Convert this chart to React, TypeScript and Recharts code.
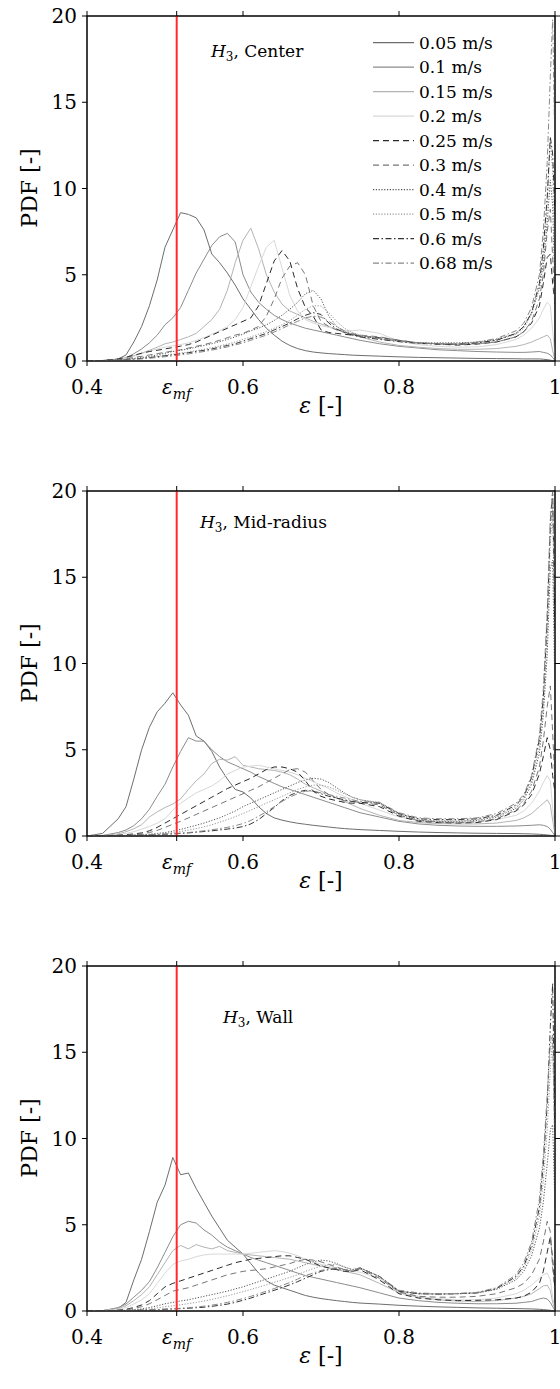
import React from 'react';
import { LineChart, Line, XAxis, YAxis, ReferenceLine } from 'recharts';

// voidage grid (shared by every curve)
const eps = [0.40, 0.42, 0.44, 0.45, 0.46, 0.47, 0.48, 0.49, 0.50, 0.51,
  0.52, 0.53, 0.54, 0.55, 0.56, 0.57, 0.58, 0.59, 0.60, 0.61,
  0.62, 0.63, 0.64, 0.65, 0.66, 0.67, 0.68, 0.69, 0.70, 0.71,
  0.72, 0.73, 0.74, 0.75, 0.775, 0.80, 0.825, 0.85, 0.875, 0.90,
  0.925, 0.95, 0.96, 0.97, 0.98, 0.985, 0.99, 0.994, 0.997, 1.0];

const EPS_MF = 0.515;
const xTicks = [0.4, EPS_MF, 0.6, 0.8, 1];
const yTicks = [0, 5, 10, 15, 20];
const speeds = ['0.05 m/s', '0.1 m/s', '0.15 m/s', '0.2 m/s', '0.25 m/s', '0.3 m/s', '0.4 m/s', '0.5 m/s', '0.6 m/s', '0.68 m/s'];

// Center
const cA = [0, 0.02, 0.12, 0.35, 1.1, 2.0, 3.2, 4.7, 6.6, 7.6, 8.6, 8.5, 8.3, 7.6, 6.2, 5.7, 5.1, 4.4, 3.6, 3.0, 2.4, 1.9, 1.5, 1.15, 0.9, 0.72, 0.6, 0.52, 0.47, 0.43, 0.4, 0.37, 0.34, 0.32, 0.28, 0.24, 0.21, 0.19, 0.17, 0.15, 0.14, 0.13, 0.12, 0.12, 0.12, 0.1, 0.08, 0.05, 0.02, 0];
const cB = [0, 0.03, 0.1, 0.18, 0.42, 0.7, 1.05, 1.5, 2.1, 2.5, 3.1, 4.1, 5.1, 5.9, 6.7, 7.2, 7.4, 6.9, 5.0, 4.0, 3.4, 3.0, 2.65, 2.4, 2.2, 2.05, 1.9, 1.8, 1.7, 1.6, 1.5, 1.4, 1.3, 1.2, 1.0, 0.85, 0.75, 0.65, 0.6, 0.55, 0.52, 0.5, 0.5, 0.52, 0.55, 0.5, 0.45, 0.35, 0.2, 0.03];
const cC = [0, 0.03, 0.1, 0.18, 0.3, 0.45, 0.62, 0.8, 1.0, 1.1, 1.25, 1.4, 1.6, 2.0, 2.4, 3.0, 4.1, 5.7, 7.0, 7.7, 6.5, 5.0, 4.0, 3.3, 2.9, 2.7, 2.5, 2.3, 2.15, 2.0, 1.85, 1.7, 1.55, 1.4, 1.1, 0.9, 0.8, 0.72, 0.68, 0.68, 0.72, 0.85, 0.95, 1.1, 1.3, 1.4, 1.5, 1.3, 0.6, 0.05];
const cD = [0, 0.02, 0.08, 0.15, 0.28, 0.42, 0.56, 0.7, 0.8, 0.88, 0.95, 1.05, 1.2, 1.35, 1.55, 1.75, 2.0, 2.4, 3.1, 4.3, 5.5, 6.6, 7.0, 5.4, 3.8, 2.9, 2.4, 2.2, 2.05, 1.95, 1.85, 1.75, 1.75, 1.8, 1.6, 1.15, 0.95, 0.85, 0.8, 0.82, 0.95, 1.25, 1.5, 1.9, 2.5, 3.0, 3.4, 3.2, 1.8, 0.15];
const cE = [0, 0.03, 0.12, 0.22, 0.33, 0.45, 0.55, 0.62, 0.7, 0.78, 0.86, 0.95, 1.1, 1.3, 1.5, 1.7, 1.9, 2.1, 2.3, 2.5, 3.2, 4.5, 5.8, 6.4, 5.8, 4.2, 3.1, 2.6, 1.8, 1.65, 1.6, 1.55, 1.5, 1.45, 1.35, 1.2, 1.05, 0.98, 0.92, 0.98, 1.1, 1.4, 1.7, 2.2, 3.2, 4.5, 6.0, 6.2, 4.5, 3.3];
const cF = [0, 0.02, 0.08, 0.14, 0.2, 0.27, 0.35, 0.43, 0.5, 0.58, 0.65, 0.75, 0.85, 0.95, 1.07, 1.2, 1.35, 1.5, 1.6, 1.8, 2.0, 2.6, 3.6, 4.8, 5.5, 5.7, 5.0, 3.2, 2.3, 2.0, 1.8, 1.65, 1.55, 1.5, 1.4, 1.2, 1.05, 1.0, 0.95, 1.0, 1.1, 1.4, 1.7, 2.3, 3.6, 5.0, 7.5, 8.8, 6.0, 3.0];
const cG = [0, 0.02, 0.06, 0.1, 0.15, 0.2, 0.27, 0.35, 0.45, 0.55, 0.62, 0.7, 0.8, 0.9, 1.0, 1.12, 1.25, 1.4, 1.55, 1.75, 1.9, 2.1, 2.35, 2.65, 3.0, 3.4, 3.9, 4.1, 3.6, 2.6, 2.0, 1.7, 1.55, 1.45, 1.3, 1.15, 1.05, 1.05, 1.05, 1.1, 1.25, 1.6, 2.0, 2.8, 4.2, 5.6, 8.0, 10.5, 9.0, 4.0];
const cH = [0, 0.02, 0.05, 0.08, 0.12, 0.16, 0.21, 0.27, 0.34, 0.4, 0.46, 0.52, 0.6, 0.68, 0.77, 0.87, 0.98, 1.1, 1.25, 1.4, 1.55, 1.72, 1.9, 2.1, 2.35, 2.65, 3.0, 3.2, 3.2, 2.8, 2.3, 1.9, 1.65, 1.5, 1.3, 1.15, 1.05, 1.0, 1.0, 1.05, 1.2, 1.55, 1.9, 2.7, 4.3, 6.0, 9.0, 12.8, 11.0, 5.0];
const cI = [0, 0.02, 0.05, 0.08, 0.11, 0.15, 0.2, 0.25, 0.3, 0.36, 0.42, 0.48, 0.55, 0.62, 0.7, 0.8, 0.9, 1.0, 1.15, 1.3, 1.45, 1.6, 1.8, 2.0, 2.2, 2.45, 2.65, 2.8, 2.7, 2.2, 1.85, 1.65, 1.5, 1.4, 1.25, 1.12, 1.02, 0.98, 0.98, 1.05, 1.2, 1.6, 2.0, 2.8, 4.5, 6.5, 9.5, 13.0, 12.0, 8.5];
const cJ = [0, 0.02, 0.04, 0.06, 0.09, 0.12, 0.16, 0.2, 0.25, 0.3, 0.35, 0.41, 0.48, 0.55, 0.63, 0.72, 0.82, 0.93, 1.05, 1.2, 1.35, 1.5, 1.68, 1.88, 2.1, 2.3, 2.5, 2.6, 2.55, 2.3, 2.0, 1.75, 1.6, 1.5, 1.3, 1.15, 1.05, 1.0, 1.0, 1.1, 1.3, 1.75, 2.2, 3.1, 5.0, 7.5, 11.5, 16.5, 19.8, 12];

// Mid-radius
const mA = [0, 0.15, 1.0, 1.7, 3.3, 5.0, 6.3, 7.2, 7.7, 8.3, 7.6, 7.0, 5.8, 5.5, 4.9, 4.0, 3.3, 2.7, 2.55, 2.2, 1.7, 1.3, 1.05, 0.92, 0.82, 0.74, 0.68, 0.62, 0.57, 0.52, 0.47, 0.43, 0.4, 0.37, 0.32, 0.27, 0.23, 0.2, 0.18, 0.16, 0.15, 0.14, 0.13, 0.12, 0.1, 0.08, 0.06, 0.04, 0.02, 0];
const mB = [0, 0.03, 0.2, 0.35, 0.6, 1.0, 1.55, 2.3, 3.0, 4.0, 4.9, 5.7, 5.5, 5.5, 5.0, 4.6, 4.3, 4.1, 3.9, 3.7, 3.45, 3.25, 3.05, 2.85, 2.7, 2.55, 2.4, 2.25, 2.1, 1.95, 1.8, 1.65, 1.5, 1.35, 1.1, 0.85, 0.7, 0.62, 0.58, 0.56, 0.56, 0.58, 0.6, 0.62, 0.65, 0.62, 0.55, 0.4, 0.2, 0.02];
const mC = [0, 0.02, 0.12, 0.25, 0.42, 0.65, 1.1, 1.4, 1.65, 1.85, 2.15, 2.7, 3.2, 3.6, 4.2, 4.45, 4.4, 4.6, 4.1, 4.0, 3.9, 3.85, 3.8, 3.7, 3.55, 3.3, 3.0, 2.8, 2.6, 2.4, 2.2, 2.0, 1.8, 1.6, 1.2, 0.9, 0.78, 0.72, 0.7, 0.7, 0.75, 0.9, 1.05, 1.3, 1.7, 1.9, 2.1, 1.8, 0.9, 0.1];
const mD = [0, 0.01, 0.08, 0.15, 0.25, 0.4, 0.55, 0.75, 1.0, 1.5, 1.9, 2.2, 2.5, 2.7, 2.9, 3.2, 3.6, 3.8, 4.0, 4.05, 4.1, 4.0, 3.9, 3.8, 3.7, 3.55, 3.35, 3.15, 2.95, 2.75, 2.5, 2.3, 2.1, 1.9, 1.5, 1.1, 0.9, 0.82, 0.8, 0.82, 0.95, 1.2, 1.45, 1.9, 2.6, 3.1, 3.5, 3.2, 1.6, 0.1];
const mE = [0, 0.02, 0.05, 0.08, 0.12, 0.18, 0.3, 0.5, 0.75, 1.0, 1.25, 1.5, 1.75, 2.0, 2.25, 2.5, 2.75, 2.95, 3.15, 3.35, 3.6, 3.85, 4.0, 4.0, 3.9, 3.7, 3.2, 2.6, 2.3, 2.15, 2.05, 1.95, 1.9, 1.9, 1.7, 1.15, 0.85, 0.78, 0.75, 0.78, 0.95, 1.45, 1.8, 2.4, 3.6, 4.6, 5.7, 5.0, 3.5, 2.5];
const mF = [0, 0.01, 0.03, 0.05, 0.08, 0.12, 0.2, 0.32, 0.5, 0.68, 0.85, 1.05, 1.25, 1.45, 1.65, 1.85, 2.05, 2.25, 2.45, 2.65, 2.85, 3.1, 3.35, 3.6, 3.85, 3.9, 3.7, 3.2, 2.7, 2.4, 2.2, 2.05, 2.0, 1.95, 1.8, 1.2, 0.9, 0.8, 0.78, 0.82, 1.0, 1.5, 1.9, 2.6, 4.0, 5.5, 7.5, 8.7, 6.0, 3.0];
const mG = [0, 0.01, 0.02, 0.03, 0.05, 0.07, 0.1, 0.15, 0.2, 0.28, 0.38, 0.5, 0.62, 0.75, 0.9, 1.05, 1.25, 1.45, 1.7, 1.9, 2.1, 2.3, 2.5, 2.7, 2.9, 3.1, 3.25, 3.35, 3.3, 3.1, 2.8, 2.5, 2.25, 2.1, 1.9, 1.25, 0.9, 0.85, 0.85, 0.9, 1.1, 1.6, 2.1, 3.0, 4.8, 7.0, 10.5, 15.5, 16.0, 8.0];
const mH = [0, 0.01, 0.02, 0.03, 0.04, 0.06, 0.08, 0.11, 0.15, 0.2, 0.26, 0.34, 0.43, 0.53, 0.65, 0.8, 0.95, 1.12, 1.3, 1.5, 1.7, 1.9, 2.1, 2.3, 2.5, 2.7, 2.85, 2.95, 2.95, 2.85, 2.65, 2.45, 2.25, 2.1, 1.95, 1.3, 0.95, 0.88, 0.88, 0.95, 1.15, 1.7, 2.2, 3.2, 5.2, 7.5, 11.5, 17.0, 19.0, 10.0];
const mI = [0, 0.01, 0.02, 0.03, 0.04, 0.05, 0.06, 0.08, 0.1, 0.12, 0.15, 0.18, 0.22, 0.26, 0.3, 0.35, 0.4, 0.46, 0.55, 0.7, 0.95, 1.3, 1.65, 2.05, 2.35, 2.55, 2.65, 2.6, 2.45, 2.3, 2.2, 2.1, 2.0, 1.95, 1.9, 1.3, 1.0, 0.95, 0.95, 1.0, 1.2, 1.8, 2.3, 3.4, 5.6, 8.0, 12.5, 18.0, 20.0, 12.0];
const mJ = [0, 0.01, 0.02, 0.03, 0.04, 0.05, 0.07, 0.09, 0.11, 0.14, 0.17, 0.2, 0.25, 0.3, 0.36, 0.43, 0.5, 0.6, 0.72, 0.9, 1.15, 1.4, 1.7, 2.0, 2.25, 2.45, 2.6, 2.6, 2.5, 2.4, 2.3, 2.2, 2.1, 2.0, 1.95, 1.35, 1.05, 1.0, 1.0, 1.05, 1.3, 1.9, 2.4, 3.5, 5.8, 8.5, 13.0, 18.5, 20.0, 14.0];

// Wall
const wA = [0, 0.02, 0.15, 0.5, 1.8, 3.0, 4.6, 6.3, 7.3, 8.9, 7.9, 8.0, 7.1, 6.3, 5.5, 4.8, 4.1, 3.7, 3.3, 2.75, 2.2, 1.75, 1.5, 1.35, 1.2, 1.05, 0.9, 0.8, 0.72, 0.66, 0.6, 0.55, 0.5, 0.46, 0.4, 0.33, 0.28, 0.24, 0.21, 0.18, 0.16, 0.14, 0.13, 0.12, 0.1, 0.08, 0.06, 0.04, 0.02, 0];
const wB = [0, 0.02, 0.2, 0.4, 0.8, 1.2, 1.7, 2.5, 3.4, 4.3, 5.0, 5.2, 5.1, 4.7, 4.4, 4.0, 3.7, 3.5, 3.3, 3.1, 2.95, 2.8, 2.65, 2.5, 2.35, 2.2, 2.05, 1.95, 1.85, 1.75, 1.65, 1.55, 1.45, 1.35, 1.05, 0.75, 0.6, 0.5, 0.45, 0.42, 0.42, 0.45, 0.5, 0.55, 0.7, 0.75, 0.7, 0.5, 0.25, 0.02];
const wC = [0, 0.02, 0.15, 0.3, 0.6, 0.95, 1.4, 2.1, 2.8, 3.5, 3.8, 3.6, 3.85, 3.7, 3.6, 3.75, 3.5, 3.4, 3.3, 3.25, 3.2, 3.15, 3.1, 3.05, 3.0, 2.9, 2.8, 2.7, 2.6, 2.5, 2.4, 2.3, 2.2, 2.1, 1.6, 1.05, 0.8, 0.65, 0.58, 0.55, 0.6, 0.75, 0.85, 1.0, 1.3, 1.45, 1.5, 1.2, 0.5, 0.05];
const wD = [0, 0.01, 0.1, 0.2, 0.4, 0.65, 1.0, 1.6, 2.2, 2.7, 2.9, 3.0, 3.15, 3.25, 3.3, 3.3, 3.3, 3.3, 3.3, 3.35, 3.4, 3.45, 3.5, 3.45, 3.35, 3.2, 3.0, 2.85, 2.7, 2.6, 2.5, 2.4, 2.3, 2.25, 1.9, 1.1, 0.85, 0.72, 0.65, 0.65, 0.75, 1.0, 1.2, 1.5, 1.9, 2.1, 2.2, 1.8, 0.8, 0.1];
const wE = [0, 0.01, 0.05, 0.1, 0.2, 0.35, 0.6, 1.0, 1.4, 1.6, 1.75, 1.9, 2.05, 2.2, 2.35, 2.5, 2.65, 2.8, 2.9, 3.0, 3.05, 3.1, 3.15, 3.2, 3.2, 3.1, 3.0, 2.8, 2.6, 2.5, 2.4, 2.3, 2.3, 2.4, 1.8, 1.0, 0.75, 0.65, 0.6, 0.62, 0.65, 0.75, 0.85, 1.1, 1.6, 2.3, 3.4, 4.3, 3.0, 1.3];
const wF = [0, 0.01, 0.04, 0.08, 0.15, 0.25, 0.42, 0.65, 0.9, 1.15, 1.25, 1.35, 1.5, 1.65, 1.8, 1.95, 2.1, 2.2, 2.3, 2.35, 2.4, 2.45, 2.55, 2.65, 2.75, 2.9, 3.0, 2.95, 2.85, 2.7, 2.55, 2.4, 2.3, 2.45, 1.9, 1.1, 0.85, 0.8, 0.8, 0.85, 1.0, 1.35, 1.6, 2.1, 3.0, 4.0, 5.2, 4.6, 2.5, 1.0];
const wG = [0, 0.01, 0.03, 0.05, 0.08, 0.12, 0.2, 0.3, 0.42, 0.5, 0.58, 0.65, 0.75, 0.85, 0.95, 1.05, 1.15, 1.28, 1.4, 1.55, 1.7, 1.85, 2.0, 2.15, 2.3, 2.5, 2.7, 2.85, 2.95, 2.9, 2.75, 2.55, 2.4, 2.5, 2.0, 1.15, 1.0, 0.98, 1.0, 1.05, 1.25, 1.8, 2.3, 3.2, 4.8, 6.3, 8.5, 10.5, 10.8, 6.0];
const wH = [0, 0.01, 0.02, 0.03, 0.05, 0.08, 0.12, 0.18, 0.25, 0.3, 0.36, 0.43, 0.5, 0.58, 0.67, 0.77, 0.88, 1.0, 1.12, 1.25, 1.38, 1.52, 1.66, 1.8, 1.95, 2.1, 2.3, 2.45, 2.6, 2.7, 2.7, 2.55, 2.4, 2.5, 2.0, 1.15, 1.0, 1.0, 1.0, 1.05, 1.3, 1.9, 2.5, 3.5, 5.5, 7.5, 10.5, 14.0, 16.0, 9.0];
const wI = [0, 0.01, 0.02, 0.03, 0.04, 0.05, 0.06, 0.08, 0.1, 0.12, 0.14, 0.16, 0.19, 0.22, 0.27, 0.33, 0.4, 0.5, 0.62, 0.75, 0.9, 1.05, 1.2, 1.35, 1.52, 1.7, 1.9, 2.1, 2.3, 2.4, 2.45, 2.4, 2.3, 2.5, 2.0, 1.15, 1.0, 0.98, 1.0, 1.05, 1.3, 2.0, 2.6, 3.8, 6.0, 8.5, 12.0, 16.5, 19.0, 10.0];
const wJ = [0, 0.01, 0.02, 0.03, 0.04, 0.05, 0.07, 0.09, 0.11, 0.13, 0.16, 0.19, 0.23, 0.28, 0.34, 0.41, 0.5, 0.6, 0.72, 0.85, 1.0, 1.15, 1.3, 1.48, 1.65, 1.85, 2.05, 2.2, 2.35, 2.45, 2.5, 2.4, 2.3, 2.5, 2.0, 1.2, 1.05, 1.0, 1.02, 1.08, 1.35, 2.1, 2.8, 4.0, 6.5, 9.0, 12.5, 15.5, 16.0, 9.0];

const centerSeries = [cA, cB, cC, cD, cE, cF, cG, cH, cI, cJ];
const midSeries = [mA, mB, mC, mD, mE, mF, mG, mH, mI, mJ];
const wallSeries = [wA, wB, wC, wD, wE, wF, wG, wH, wI, wJ];

const lineStyles = [
  { stroke: '#6e6e6e', dash: undefined },
  { stroke: '#8c8c8c', dash: undefined },
  { stroke: '#b4b4b4', dash: undefined },
  { stroke: '#d8d8d8', dash: undefined },
  { stroke: '#2a2a2a', dash: '6 4' },
  { stroke: '#777777', dash: '6 4' },
  { stroke: '#555555', dash: '1.2 1.6' },
  { stroke: '#999999', dash: '1.2 1.6' },
  { stroke: '#333333', dash: '6 2.5 1.5 2.5' },
  { stroke: '#888888', dash: '6 2.5 1.5 2.5' },
];

const FONT = 'DejaVu Serif';

const XTick = (props: any) => {
  const { x, y, payload } = props;
  if (Math.abs(payload.value - EPS_MF) < 1e-6) {
    return (
      <text x={x} y={y + 26} textAnchor="middle" fontFamily={FONT} fontSize={20} fill="#000">
        <tspan fontStyle="italic">ε</tspan>
        <tspan fontStyle="italic" fontSize={14} dy={5}>mf</tspan>
      </text>
    );
  }
  return (
    <text x={x} y={y + 26} textAnchor="middle" fontFamily={FONT} fontSize={20} fill="#000">
      {String(payload.value)}
    </text>
  );
};

const Panel = ({ series, title, titleX, titleY, height, bottom, legend }: any) => {
  const rows = eps.map((e, i) => {
    const r: any = { eps: e };
    series.forEach((s: number[], k: number) => { r['s' + k] = s[i]; });
    return r;
  });
  const plotBottom = height - bottom - 30;
  const last = series.length - 1;
  return (
    <LineChart width={560} height={height} data={rows} margin={{ top: 15, right: 4, bottom: bottom, left: 27 }}>
      <XAxis dataKey="eps" type="number" domain={[0.4, 1]} ticks={xTicks} tick={<XTick />} tickSize={5}
        height={30} stroke="#000" allowDataOverflow interval={0} />
      <XAxis xAxisId="top" dataKey="eps" type="number" orientation="top" domain={[0.4, 1]} ticks={xTicks}
        tickFormatter={() => ''} tickSize={5} height={1} stroke="#000" allowDataOverflow interval={0} />
      <YAxis domain={[0, 20]} ticks={yTicks} width={60} tickSize={5} tickMargin={5} stroke="#000" allowDataOverflow
        tick={{ fill: '#000', fontSize: 20, fontFamily: FONT }} interval={0} />
      <YAxis yAxisId="right" orientation="right" domain={[0, 20]} ticks={yTicks} width={1} tickSize={5}
        tickFormatter={() => ''} stroke="#000" allowDataOverflow interval={0} />
      {series.map((_: number[], k: number) => (
        <Line key={k} dataKey={'s' + k} type="linear" dot={false} isAnimationActive={false}
          xAxisId={k === last ? 'top' : 0} yAxisId={k === last ? 'right' : 0}
          stroke={lineStyles[k].stroke} strokeDasharray={lineStyles[k].dash} strokeWidth={1} />
      ))}
      <ReferenceLine x={EPS_MF} stroke="#ff2b2b" strokeWidth={2} />
      <rect x={87} y={16} width={468} height={plotBottom - 16} fill="none" stroke="#000" strokeWidth={1} />
      <text x={titleX} y={titleY} fontFamily={FONT} fontSize={17} fill="#000">
        <tspan fontStyle="italic">H</tspan>
        <tspan fontSize={12} dy={4}>3</tspan>
        <tspan dy={-4}>{', ' + title}</tspan>
      </text>
      <text x={29} y={188} transform="rotate(-90 29 188)" textAnchor="middle" dominantBaseline="central"
        fontFamily={FONT} fontSize={22} fill="#000">PDF [-]</text>
      <text x={321} y={plotBottom + 52} textAnchor="middle" fontFamily={FONT} fontSize={22} fill="#000">
        <tspan fontStyle="italic">ε</tspan> [-]
      </text>
      {legend && speeds.map((s, k) => {
        const cy = 42.7 + k * 24.5;
        return (
          <g key={s}>
            <line x1={373} x2={414} y1={cy} y2={cy} stroke={lineStyles[k].stroke}
              strokeDasharray={lineStyles[k].dash} strokeWidth={1.2} />
            <text x={419} y={cy + 6} fontFamily={FONT} fontSize={17} fill="#000">{s}</text>
          </g>
        );
      })}
    </LineChart>
  );
};

export default function App() {
  return (
    <div style={{ position: 'absolute', left: 0, top: 0, width: 560, height: 1389, background: '#fff' }}>
      <Panel series={centerSeries} title="Center" titleX={211} titleY={57} height={475} bottom={84} legend />
      <Panel series={midSeries} title="Mid-radius" titleX={200} titleY={53} height={475} bottom={84} />
      <Panel series={wallSeries} title="Wall" titleX={223} titleY={73} height={439} bottom={48} />
    </div>
  );
}
